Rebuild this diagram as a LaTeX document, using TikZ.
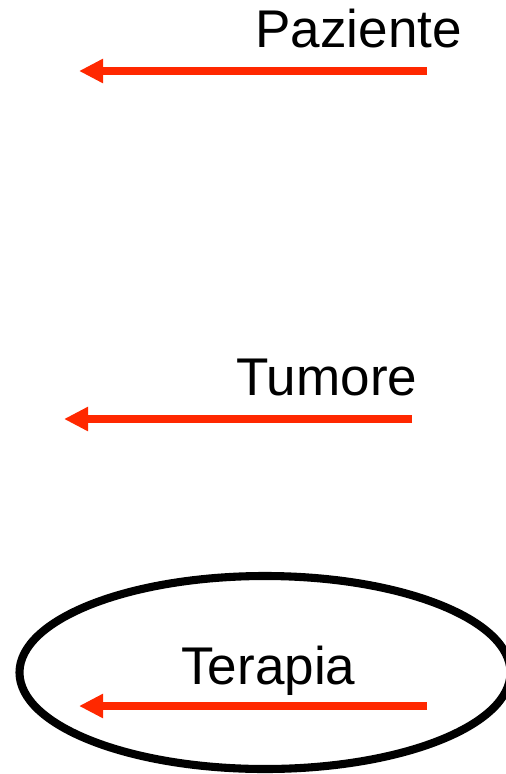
\documentclass[tikz,border=0pt]{standalone}
\usepackage{fontspec}
\setmainfont{Liberation Sans}
\usepackage{xcolor}
\usetikzlibrary{arrows.meta, positioning}

\definecolor{arrowred}{RGB}{255,40,0}

\begin{document}
\begin{tikzpicture}[
  x=0.02cm, y=-0.02cm,
  label/.style={inner sep=0pt, anchor=base west,
                font=\fontsize{30.2}{34}\selectfont},
  back/.style={arrowred, line width=4.55pt,
               -{Triangle[length=13.7pt, width=13pt]}},
  ring/.style={line width=4.6pt},
]

  % === Canvas ===
  \useasboundingbox (0,0) rectangle (506,774);

  % === Labels ===
  \node[label] (paziente) at (255,47)  {Paziente};
  \node[label] (tumore)   at (236,395) {Tumore};
  \node[label] (terapia)  at (181,684) {Terapia};

  % === Arrows ===
  \coordinate (pazS) at (427,71);  \coordinate (pazE) at (79,71);
  \coordinate (tumS) at (412,419); \coordinate (tumE) at (64,419);
  \coordinate (terS) at (427,706); \coordinate (terE) at (79,706);

  \draw[back] (pazS) -- (pazE);
  \draw[back] (tumS) -- (tumE);
  \draw[back] (terS) -- (terE);

  % Ellipse round Terapia
  \draw[ring] (265,672.5) ellipse [x radius=245.5, y radius=96.5];

\end{tikzpicture}
\end{document}
